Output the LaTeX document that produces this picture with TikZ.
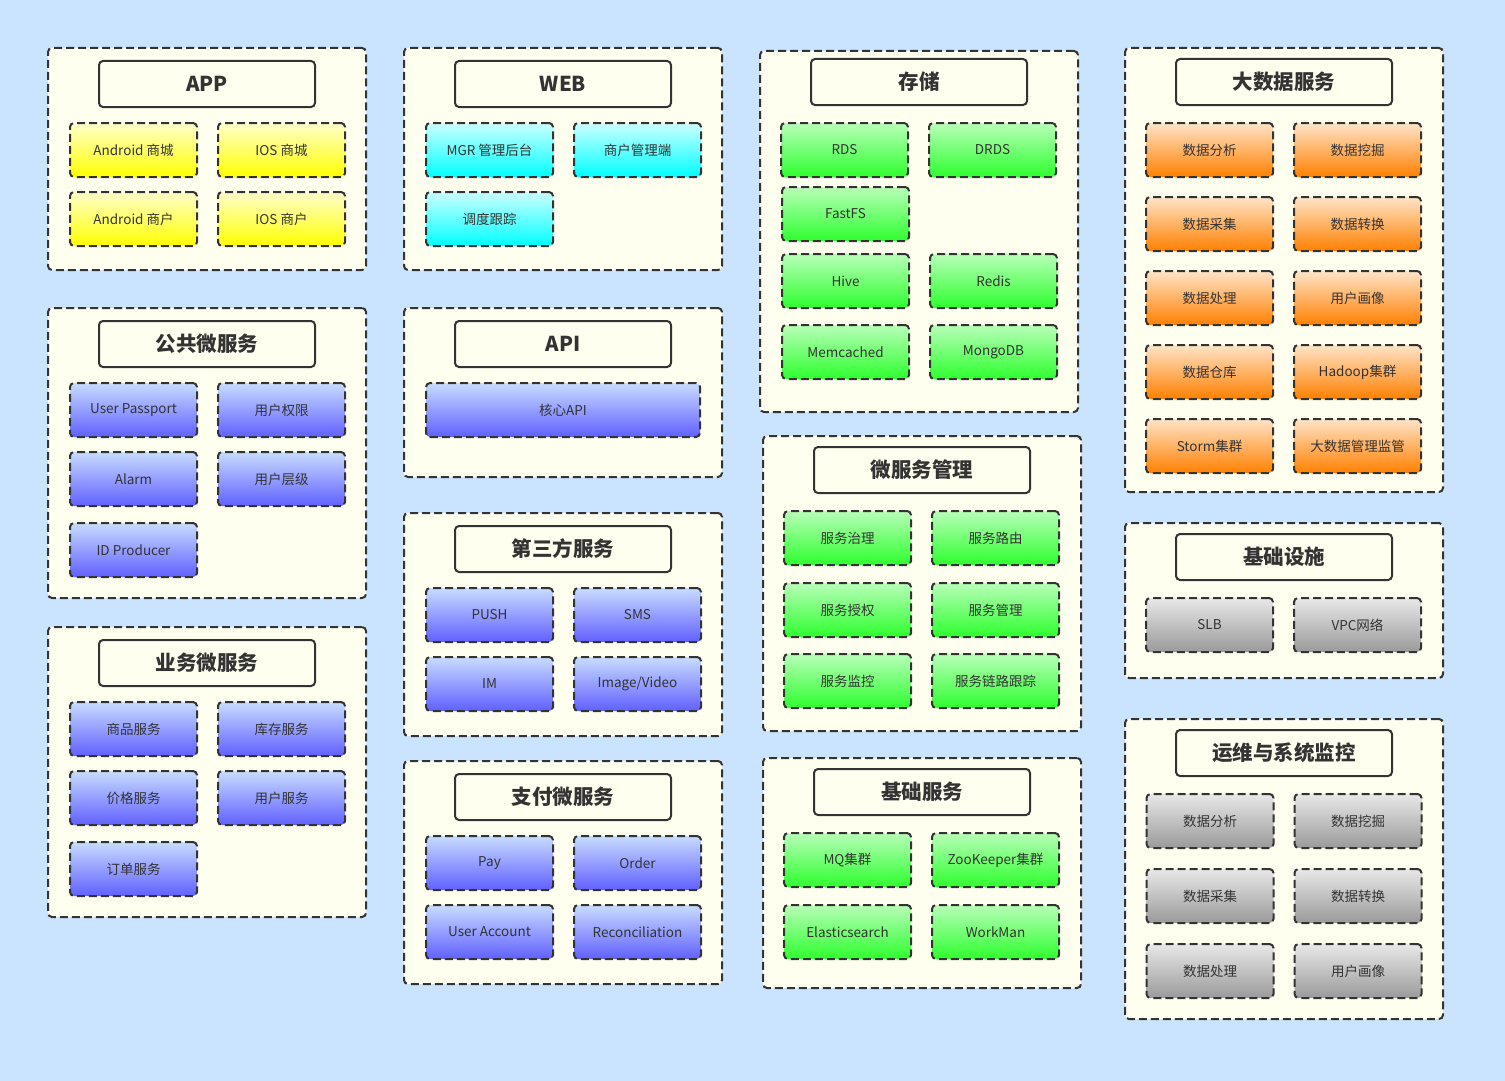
\documentclass[tikz,border=0pt]{standalone}
\usepackage{fontspec}
\setmainfont{Noto Sans CJK SC}
\usepackage{tikz}
\usepackage{xcolor}

\definecolor{bgblue}{HTML}{CAE4FF}
\definecolor{ivory}{HTML}{FFFFF0}
\definecolor{linegray}{HTML}{333333}
\definecolor{yelTop}{HTML}{FFFFCC}
\definecolor{yelBot}{HTML}{FFFF00}
\definecolor{cyaTop}{HTML}{CCFFFF}
\definecolor{cyaBot}{HTML}{00FFFF}
\definecolor{bluTop}{HTML}{C8DCFF}
\definecolor{bluBot}{HTML}{6060FF}
\definecolor{greTop}{HTML}{B8FFB8}
\definecolor{greBot}{HTML}{2EFF2E}
\definecolor{oraTop}{HTML}{FFE4C8}
\definecolor{oraBot}{HTML}{FF8000}
\definecolor{graTop}{HTML}{E8E8E8}
\definecolor{graBot}{HTML}{9A9A9A}

\tikzset{
	dbox/.style={draw=linegray, line width=2pt, dash pattern=on 8pt off 4pt, rounded corners=4pt, inner sep=0pt},
	group/.style={dbox, fill=ivory, minimum width=318pt},
	head/.style={draw=linegray, line width=2pt, rounded corners=4pt, fill=ivory, inner sep=0pt,
		minimum width=216pt, minimum height=46pt, text=linegray, font=\bfseries\fontsize{20.5}{24}\selectfont},
	svc/.style={dbox, minimum width=127pt, minimum height=54pt, text=linegray, font=\fontsize{13.5}{16}\selectfont},
	yel/.style={svc, top color=yelTop, bottom color=yelBot},
	cya/.style={svc, top color=cyaTop, bottom color=cyaBot},
	blu/.style={svc, top color=bluTop, bottom color=bluBot},
	gre/.style={svc, top color=greTop, bottom color=greBot},
	ora/.style={svc, top color=oraTop, bottom color=oraBot},
	gra/.style={svc, top color=graTop, bottom color=graBot},
}

\begin{document}
\begin{tikzpicture}[x=1pt, y=-1pt]
		\fill[bgblue] (0,0) rectangle (1505,1081);
		\useasboundingbox (0,0) rectangle (1505,1081);
		
		% APP
		\node[group, minimum height=222pt] (app) at (207,159) {};
		\node[head] (appT) at (207,84) {APP};
		\node[yel] (appA1) at (133.5,150) {Android 商城};
		\node[yel] (appI1) at (281.5,150) {IOS 商城};
		\node[yel] (appA2) at (133.5,219) {Android 商户};
		\node[yel] (appI2) at (281.5,219) {IOS 商户};
		
		% 公共微服务
		\node[group, minimum height=290pt] (pub) at (207,453) {};
		\node[head] (pubT) at (207,344) {公共微服务};
		\node[blu] (pubPass) at (133.5,410) {User Passport};
		\node[blu] (pubAuth) at (281.5,410) {用户权限};
		\node[blu] (pubAlarm) at (133.5,479) {Alarm};
		\node[blu] (pubLevel) at (281.5,479) {用户层级};
		\node[blu] (pubId) at (133.5,550) {ID Producer};
		
		% 业务微服务
		\node[group, minimum height=290pt] (biz) at (207,772) {};
		\node[head] (bizT) at (207,663) {业务微服务};
		\node[blu] (bizGoods) at (133.5,729) {商品服务};
		\node[blu] (bizStock) at (281.5,729) {库存服务};
		\node[blu] (bizPrice) at (133.5,798) {价格服务};
		\node[blu] (bizUser) at (281.5,798) {用户服务};
		\node[blu] (bizOrder) at (133.5,869) {订单服务};
		
		% WEB
		\node[group, minimum height=222pt] (web) at (563,159) {};
		\node[head] (webT) at (563,84) {WEB};
		\node[cya] (webMgr) at (489.5,150) {MGR 管理后台};
		\node[cya] (webShop) at (637.5,150) {商户管理端};
		\node[cya] (webTrace) at (489.5,219) {调度跟踪};
		
		% API
		\node[group, minimum height=169pt] (api) at (563,392.5) {};
		\node[head] (apiT) at (563,344) {API};
		\node[blu, minimum width=274pt] (apiCore) at (563,410) {核心API};
		
		% 第三方服务
		\node[group, minimum height=223pt] (third) at (563,624.5) {};
		\node[head] (thirdT) at (563,549) {第三方服务};
		\node[blu] (thirdPush) at (489.5,615) {PUSH};
		\node[blu] (thirdSms) at (637.5,615) {SMS};
		\node[blu] (thirdIm) at (489.5,684) {IM};
		\node[blu] (thirdImg) at (637.5,684) {Image/Video};
		
		% 支付微服务
		\node[group, minimum height=223pt] (pay) at (563,872.5) {};
		\node[head] (payT) at (563,797) {支付微服务};
		\node[blu] (payPay) at (489.5,863) {Pay};
		\node[blu] (payOrder) at (637.5,863) {Order};
		\node[blu] (payAcc) at (489.5,932) {User Account};
		\node[blu] (payRec) at (637.5,932) {Reconciliation};
		
		% 存储
		\node[group, minimum height=361pt] (store) at (919,231.5) {};
		\node[head] (storeT) at (919,82) {存储};
		\node[gre] (storeRds) at (844.5,150) {RDS};
		\node[gre] (storeDrds) at (992.5,150) {DRDS};
		\node[gre] (storeFs) at (845.5,214) {FastFS};
		\node[gre] (storeHive) at (845.5,281) {Hive};
		\node[gre] (storeRedis) at (993.5,281) {Redis};
		\node[gre] (storeMem) at (845.5,352) {Memcached};
		\node[gre] (storeMongo) at (993.5,352) {MongoDB};
		
		% 微服务管理
		\node[group, minimum height=295pt] (msm) at (922,583.5) {};
		\node[head] (msmT) at (922,470) {微服务管理};
		\node[gre] (msmGov) at (847.5,538) {服务治理};
		\node[gre] (msmRoute) at (995.5,538) {服务路由};
		\node[gre] (msmAuth) at (847.5,610) {服务授权};
		\node[gre] (msmMgr) at (995.5,610) {服务管理};
		\node[gre] (msmMon) at (847.5,681) {服务监控};
		\node[gre] (msmTrace) at (995.5,681) {服务链路跟踪};
		
		% 基础服务
		\node[group, minimum height=230pt] (base) at (922,873) {};
		\node[head] (baseT) at (922,792) {基础服务};
		\node[gre] (baseMq) at (847.5,860) {MQ集群};
		\node[gre] (baseZk) at (995.5,860) {ZooKeeper集群};
		\node[gre] (baseEs) at (847.5,932) {Elasticsearch};
		\node[gre] (baseWm) at (995.5,932) {WorkMan};
		
		% 大数据服务
		\node[group, minimum height=444pt] (big) at (1284,270) {};
		\node[head] (bigT) at (1284,82) {大数据服务};
		\node[ora] (bigAna) at (1209.5,150) {数据分析};
		\node[ora] (bigMine) at (1357.5,150) {数据挖掘};
		\node[ora] (bigColl) at (1209.5,224) {数据采集};
		\node[ora] (bigConv) at (1357.5,224) {数据转换};
		\node[ora] (bigProc) at (1209.5,298) {数据处理};
		\node[ora] (bigPort) at (1357.5,298) {用户画像};
		\node[ora] (bigWh) at (1209.5,372) {数据仓库};
		\node[ora] (bigHdp) at (1357.5,372) {Hadoop集群};
		\node[ora] (bigStorm) at (1209.5,446) {Storm集群};
		\node[ora] (bigMon) at (1357.5,446) {大数据管理监管};
		
		% 基础设施
		\node[group, minimum height=155pt] (infra) at (1284,600.5) {};
		\node[head] (infraT) at (1284,557) {基础设施};
		\node[gra] (infraSlb) at (1209.5,625) {SLB};
		\node[gra] (infraVpc) at (1357.5,625) {VPC网络};
		
		% 运维与系统监控
		\node[group, minimum height=300pt] (ops) at (1284,869) {};
		\node[head] (opsT) at (1284,753) {运维与系统监控};
		\node[gra] (opsAna) at (1210,821) {数据分析};
		\node[gra] (opsMine) at (1358,821) {数据挖掘};
		\node[gra] (opsColl) at (1210,896) {数据采集};
		\node[gra] (opsConv) at (1358,896) {数据转换};
		\node[gra] (opsProc) at (1210,971) {数据处理};
		\node[gra] (opsPort) at (1358,971) {用户画像};
	\end{tikzpicture}
\end{document}
